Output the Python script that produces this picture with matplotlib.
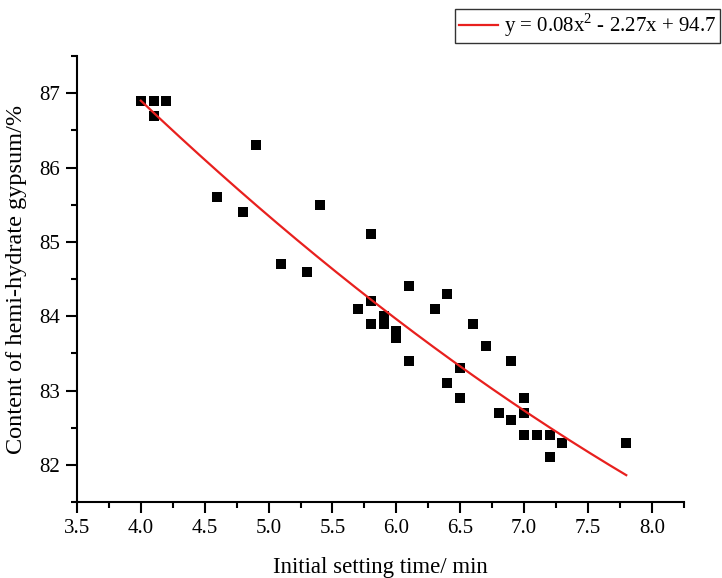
import matplotlib
matplotlib.use("Agg")
import matplotlib.pyplot as plt
import numpy as np
from matplotlib.ticker import MultipleLocator

# data
setting_time = [4.0, 4.1, 4.2, 4.1, 4.9, 4.6, 4.8, 5.4, 5.1, 5.3,
                5.8, 6.1, 6.4, 5.8, 5.7, 6.3, 5.8, 5.9, 5.9, 6.0,
                6.0, 6.6, 6.7, 6.1, 6.9, 6.5, 6.4, 6.5, 7.0, 6.8,
                7.0, 6.9, 7.0, 7.1, 7.2, 7.3, 7.2, 7.8]
hemi_content = [86.9, 86.9, 86.9, 86.7, 86.3, 85.6, 85.4, 85.5, 84.7, 84.6,
                85.1, 84.4, 84.3, 84.2, 84.1, 84.1, 83.9, 84.0, 83.9, 83.8,
                83.7, 83.9, 83.6, 83.4, 83.4, 83.3, 83.1, 82.9, 82.9, 82.7,
                82.7, 82.6, 82.4, 82.4, 82.4, 82.3, 82.1, 82.3]

# quadratic fit as printed in the legend
fit_coef = [0.08, -2.27, 94.7]
fit_label = "y = 0.08x$^2$ - 2.27x + 94.7"

x_ticks = [3.5, 4.0, 4.5, 5.0, 5.5, 6.0, 6.5, 7.0, 7.5, 8.0]
y_ticks = [82, 83, 84, 85, 86, 87]

plt.rcParams["font.family"] = ["Liberation Serif", "DejaVu Serif"]
plt.rcParams["mathtext.fontset"] = "custom"
plt.rcParams["mathtext.rm"] = "Liberation Serif"

fig = plt.figure(figsize=(7.22, 5.78), dpi=100)
ax = fig.add_axes([0.1066, 0.1315, 0.8404, 0.7715])

ax.scatter(setting_time, hemi_content, marker="s", s=60, color="black",
           linewidths=0, zorder=3)

x_fit = np.linspace(min(setting_time), max(setting_time), 200)
y_fit = np.polyval(fit_coef, x_fit)
line, = ax.plot(x_fit, y_fit, color="#e8201e", lw=1.6, zorder=4,
                label=fit_label)

ax.set_xlim(3.5, 8.25)
ax.set_ylim(81.5, 87.5)
ax.set_xticks(x_ticks)
ax.set_xticklabels([f"{t:.1f}" for t in x_ticks])
ax.set_yticks(y_ticks)
ax.xaxis.set_minor_locator(MultipleLocator(0.25))
ax.yaxis.set_minor_locator(MultipleLocator(0.5))

for side in ["top", "right"]:
    ax.spines[side].set_visible(False)
for side in ["left", "bottom"]:
    ax.spines[side].set_linewidth(1.5)

ax.tick_params(which="major", direction="out", length=8, width=1.5,
               labelsize=15, pad=4)
ax.tick_params(which="minor", direction="out", length=4.5, width=1.5)

ax.set_xlabel("Initial setting time/ min", fontsize=16.5, labelpad=14)
ax.set_ylabel("Content of hemi-hydrate gypsum/%", fontsize=17.5, labelpad=9)

leg = fig.legend(handles=[line], loc="upper right",
                 bbox_to_anchor=(0.997, 0.985), fontsize=15,
                 frameon=True, fancybox=False, edgecolor="black",
                 handlelength=1.9, borderpad=0.15, handletextpad=0.3,
                 borderaxespad=0)
leg.get_frame().set_linewidth(1.0)

fig.savefig("out.png", dpi=100)
